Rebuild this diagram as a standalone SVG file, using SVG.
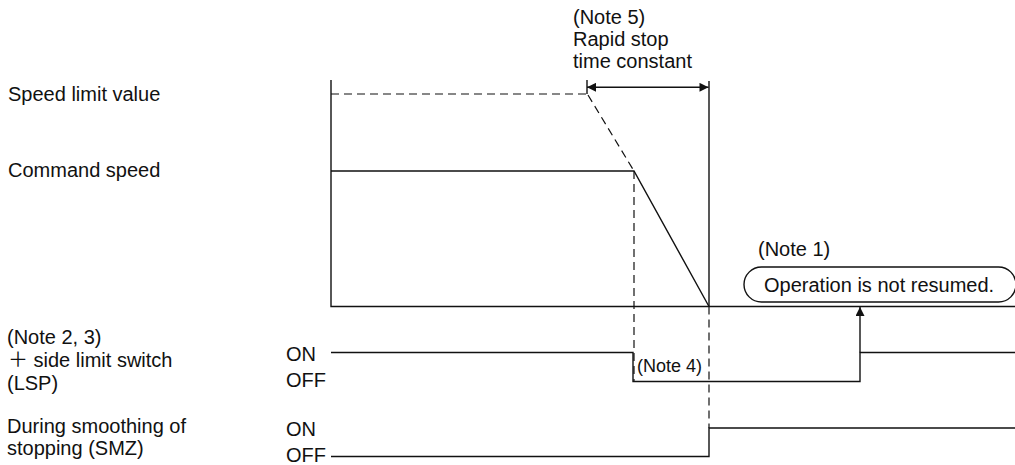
<svg xmlns="http://www.w3.org/2000/svg" width="1015" height="465" viewBox="0 0 1015 465">
<defs>
<style>
text{font-family:"Liberation Sans",Arial,"Noto Sans CJK JP",sans-serif;font-size:20px;fill:#111}
.ln{stroke:#111;stroke-width:1.4;fill:none}
.ds{stroke:#111;stroke-width:1.2;fill:none;stroke-dasharray:8 5}
.sm{font-size:18px}
</style>
<marker id="ah" viewBox="0 0 10 10" refX="10" refY="5" markerWidth="10" markerHeight="9" markerUnits="userSpaceOnUse" orient="auto-start-reverse">
<path d="M0,0 L10,5 L0,10 z" fill="#111"/>
</marker>
</defs>
<rect width="1015" height="465" fill="#fff"/>
<g id="labels">
<text x="8" y="101">Speed limit value</text>
<text x="8" y="177">Command speed</text>
<text x="7" y="344">(Note 2, 3)</text>
<text x="8" y="367">＋ side limit switch</text>
<text x="7" y="390">(LSP)</text>
<text x="7" y="433">During smoothing of</text>
<text x="7" y="455">stopping (SMZ)</text>
<text x="286" y="361">ON</text>
<text x="286" y="387">OFF</text>
<text x="286" y="436">ON</text>
<text x="286" y="462">OFF</text>
</g>
<g id="note5">
<text x="573" y="24">(Note 5)</text>
<text x="573" y="46">Rapid stop</text>
<text x="573" y="68">time constant</text>
</g>
<g id="note1">
<text x="758" y="256">(Note 1)</text>
<rect x="744" y="267" width="272" height="35" rx="17.5" ry="17.5" class="ln"/>
<text x="764" y="292">Operation is not resumed.</text>
</g>
<g id="note4">
<text class="sm" x="637" y="372">(Note 4)</text>
</g>
<g id="connectors">
<path class="ln" d="M331,80 V306.5 H1015"/>
<path class="ds" d="M331,94 H587"/>
<path class="ds" d="M588,95 L634,171"/>
<path class="ln" d="M331,171 H634 L709,306.5"/>
<path class="ln" d="M709,81 V306.5"/>
<path class="ln" d="M587,80 V94"/>
<path class="ln" d="M587,87.3 H708.5" marker-start="url(#ah)" marker-end="url(#ah)"/>
<path class="ds" d="M634,171 V382"/>
<path class="ds" d="M709,306.5 V428"/>
<path class="ln" d="M331,352.5 H633 V381.5 H860 V352.5 H1015"/>
<path class="ln" d="M860,352.5 V307" marker-end="url(#ah)"/>
<path class="ln" d="M331,456.5 H709 V428 H1015"/>
</g>
</svg>
